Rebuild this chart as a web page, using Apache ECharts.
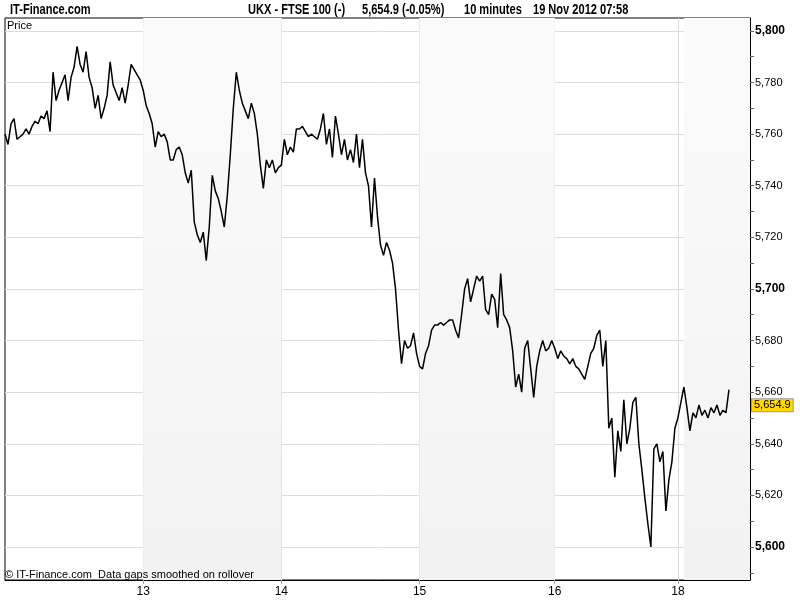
<!DOCTYPE html>
<html>
<head>
<meta charset="utf-8">
<script src="https://cdn.jsdelivr.net/npm/echarts@6/dist/echarts.min.js"></script>
<style>html,body{margin:0;padding:0;background:#fff;}#chart{width:800px;height:600px;}</style>
</head>
<body>
<div id="chart"></div>
<script>
// 10-minute closes, UKX (FTSE 100), 12-19 Nov 2012
const prices = [
5760,5756,5764,5766,5758,5759,5760,5762,5760,5763,
5765,5764,5767,5766,5769,5761,5784,5773,5777,5780,
5783,5773,5782,5786,5794,5787,5784,5792,5782,5778,
5770,5775,5766,5770,5775,5788,5779,5776,5773,5778,
5772,5779,5787,5785,5783,5781,5777,5771,5768,5764,
5755,5761,5759,5760,5757,5750,5750,5754,5755,5752,
5745,5741,5746,5726,5721,5718,5722,5711,5724,5744,
5738,5735,5730,5724,5736,5752,5770,5784,5777,5772,
5769,5766,5772,5768,5760,5748,5739,5750,5747,5750,
5745,5747,5748,5758,5752,5755,5753,5762,5762,5763,
5761,5759,5760,5759,5758,5762,5768,5756,5762,5751,
5767,5760,5752,5758,5750,5754,5749,5760,5747,5758,
5745,5740,5724,5743,5728,5717,5713,5718,5715,5710,
5700,5684,5671,5680,5677,5678,5683,5675,5670,5669,
5675,5678,5684,5686,5686,5687,5686,5687,5688,5688,
5684,5681,5690,5700,5704,5695,5700,5705,5703,5705,
5692,5690,5698,5696,5685,5706,5690,5688,5685,5676,
5662,5667,5660,5677,5680,5669,5658,5670,5676,5680,
5676,5677,5680,5677,5673,5676,5674,5673,5671,5673,
5670,5669,5667,5665,5670,5675,5677,5682,5684,5670,
5680,5646,5650,5627,5645,5637,5657,5640,5646,5656,
5658,5640,5630,5619,5609,5600,5638,5640,5633,5637,
5614,5626,5633,5646,5650,5656,5662,5654,5645,5652,
5650,5655,5651,5653,5650,5654,5652,5655,5651,5653,
5652,5661
];
const totalSlots = 249;                       // 10-minute slots across the axis
const dayNames   = ['12','13','14','15','16','18','19'];
const dayStarts  = [0, 46, 92, 138, 183, 224, 226];
const labelledDays = ['13','14','15','16','18'];
const shadedDays = ['13','15','19'];
const yLabelValues = [5600,5620,5640,5660,5680,5700,5720,5740,5760,5780,5800];
const yTickValues  = [5590,5600,5610,5620,5630,5640,5650,5660,5670,5680,5690,5700,5710,5720,5730,5740,5750,5760,5770,5780,5790,5800];
const boldLabels = [5600,5700,5800];
const yMin = 5587.2, yMax = 5805;
const lastPrice = 5654.9;
const siteName = 'IT-Finance.com';
const headerParts = ['UKX - FTSE 100 (-)', '5,654.9 (-0.05%)', '10 minutes', '19 Nov 2012 07:58'];

const categories = [];
for (let i = 0; i < totalSlots; i++) categories.push(String(i));
const gridIdx = dayStarts.slice(1);
const labelIdx = {};
dayNames.forEach((d, k) => { if (labelledDays.includes(d)) labelIdx[dayStarts[k]] = d; });
const areas = [];
dayNames.forEach((d, k) => {
  if (shadedDays.includes(d)) {
    const s = dayStarts[k];
    const e = k + 1 < dayStarts.length ? dayStarts[k + 1] : totalSlots - 1;
    areas.push([{ xAxis: String(s) }, { xAxis: String(e) }]);
  }
});
const fmt = v => v.toLocaleString('en-US');
const FONT = 'Liberation Sans, Arial, sans-serif';
const HEAD_FONT = 'bold 14px "Liberation Sans", Arial, sans-serif';

// header texts, drawn in a horizontally condensed bold face
const headerX = [10, 248, 362, 464, 533];
const headerTexts = [siteName].concat(headerParts);
const headerGraphics = headerTexts.map((t, k) => ({
  type: 'text', x: headerX[k], y: 3, scaleX: 0.79, silent: true,
  style: { text: t, font: HEAD_FONT, fill: '#000', textVerticalAlign: 'top' }
}));

const chart = echarts.init(document.getElementById('chart'), null, { renderer: 'canvas' });
chart.setOption({
  animation: false,
  backgroundColor: '#ffffff',
  graphic: headerGraphics,
  title: [
    { text: 'Price', left: 7, top: 20, padding: 0,
      textStyle: { fontFamily: FONT, fontWeight: 'normal', fontSize: 11, color: '#000' } },
    { text: '\u00a9 IT-Finance.com  Data gaps smoothed on rollover', left: 5, top: 569, padding: 0,
      textStyle: { fontFamily: FONT, fontWeight: 'normal', fontSize: 11, color: '#000' } }
  ],
  grid: { left: 5, right: 50, top: 18, bottom: 20, show: true, borderColor: '#000', borderWidth: 1, backgroundColor: '#fff' },
  xAxis: {
    type: 'category', data: categories, boundaryGap: false,
    axisLine: { show: true, lineStyle: { color: '#000', width: 1 } },
    axisTick: { show: true, length: 4, interval: (i) => labelIdx[i] !== undefined, lineStyle: { color: '#9aa4ad' } },
    axisLabel: { show: true, interval: (i) => labelIdx[i] !== undefined, formatter: (v, i) => labelIdx[i] || '',
      fontFamily: FONT, fontSize: 12, color: '#000', margin: 6 },
    splitLine: { show: true, interval: (i) => gridIdx.includes(i), lineStyle: { color: '#dcdcdc', width: 1 } }
  },
  yAxis: [
    { type: 'value', position: 'right', min: yMin, max: yMax, scale: true,
      axisLine: { show: true, lineStyle: { color: '#000', width: 1 } },
      axisTick: { show: true, length: 4, customValues: yTickValues, lineStyle: { color: '#666' } },
      axisLabel: { show: true, customValues: yLabelValues, margin: 5, fontFamily: FONT, fontSize: 11, color: '#000',
        formatter: v => boldLabels.includes(v) ? '{b|' + fmt(v) + '}' : fmt(v),
        rich: { b: { fontWeight: 'bold', fontSize: 12, fontFamily: FONT, color: '#000' } } },
      splitLine: { show: false } },
    { type: 'value', position: 'right', min: yMin, max: yMax, scale: true,
      axisLine: { show: false }, axisTick: { show: false, customValues: yLabelValues },
      axisLabel: { show: false, customValues: yLabelValues },
      splitLine: { show: true, lineStyle: { color: '#dcdcdc', width: 1 } } }
  ],
  series: [{
    type: 'line', data: prices, yAxisIndex: 0, showSymbol: false, symbol: 'none', silent: true,
    lineStyle: { color: '#000', width: 1.5 },
    markArea: { silent: true, itemStyle: { color: {
        type: 'linear', x: 0, y: 0, x2: 0, y2: 1,
        colorStops: [{ offset: 0, color: '#fbfbfb' }, { offset: 1, color: '#f2f2f2' }] } },
      data: areas },
    markLine: { silent: true, symbol: 'none', animation: false,
      lineStyle: { color: 'rgba(0,0,0,0)', width: 0 },
      label: { show: true, position: 'end', distance: 2, formatter: fmt(lastPrice),
        fontFamily: FONT, fontSize: 11, color: '#000', backgroundColor: '#ffd800',
        borderColor: '#9a9a9a', borderWidth: 1, padding: [1, 2, 0, 2] },
      data: [{ yAxis: lastPrice }] }
  }]
});
</script>
</body>
</html>
